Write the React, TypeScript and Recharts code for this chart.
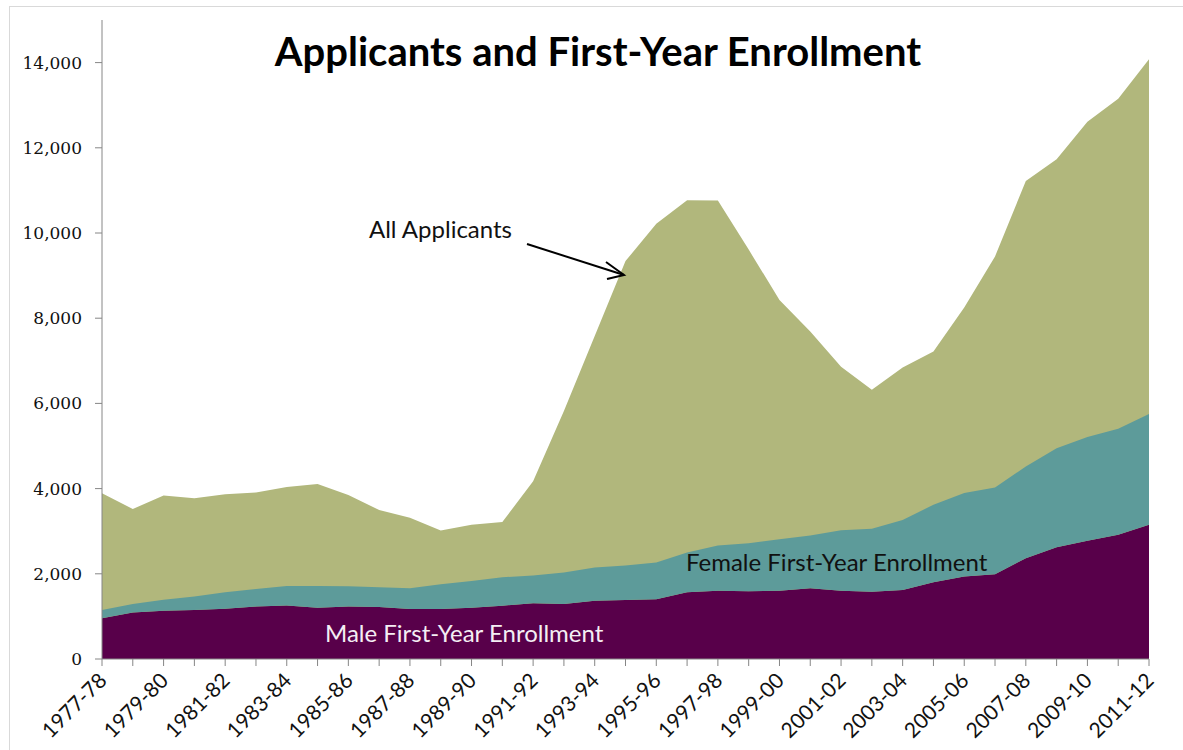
import { AreaChart, Area, XAxis, YAxis } from "recharts";

const years = [
  "1977-78", "1978-79", "1979-80", "1980-81", "1981-82", "1982-83", "1983-84",
  "1984-85", "1985-86", "1986-87", "1987-88", "1988-89", "1989-90", "1990-91",
  "1991-92", "1992-93", "1993-94", "1994-95", "1995-96", "1996-97", "1997-98",
  "1998-99", "1999-00", "2000-01", "2001-02", "2002-03", "2003-04", "2004-05",
  "2005-06", "2006-07", "2007-08", "2008-09", "2009-10", "2010-11", "2011-12",
];

const applicants = [
  3890, 3520, 3840, 3775, 3870, 3910, 4040, 4110, 3850, 3500, 3315, 3015, 3150,
  3215, 4170, 5820, 7580, 9340, 10220, 10770, 10760, 9610, 8430, 7690, 6860,
  6320, 6840, 7220, 8250, 9450, 11220, 11730, 12610, 13150, 14080,
];

const maleEnrollment = [
  955, 1090, 1135, 1150, 1180, 1230, 1255, 1205, 1230, 1218, 1175, 1175, 1205,
  1250, 1310, 1290, 1365, 1385, 1400, 1565, 1600, 1590, 1605, 1660, 1605, 1580,
  1620, 1800, 1935, 1990, 2365, 2625, 2775, 2915, 3150,
];

const femaleEnrollment = [
  195, 200, 255, 315, 385, 415, 460, 510, 480, 467, 485, 580, 625, 670, 650,
  740, 780, 810, 865, 935, 1065, 1130, 1205, 1240, 1420, 1475, 1645, 1820, 1960,
  2035, 2155, 2325, 2435, 2490, 2600,
];

const yTicks = [0, 2000, 4000, 6000, 8000, 10000, 12000, 14000];

const data = years.map((year, i) => ({
  year,
  applicants: applicants[i],
  male: maleEnrollment[i],
  female: femaleEnrollment[i],
}));

const labelFont = "Lato, 'Open Sans', sans-serif";

function YearTick(props: any) {
  const { x, y, payload } = props;
  const idx = years.indexOf(payload.value);
  if (idx % 2 !== 0) return <g />;
  return (
    <text
      transform={`translate(${x + 6},${y + 14}) rotate(-45)`}
      textAnchor="end"
      fontFamily={labelFont}
      fontSize={21}
      fill="#111"
    >
      {payload.value}
    </text>
  );
}

export default function App() {
  return (
    <div style={{ position: "absolute", left: 0, top: 0, width: 1183, height: 750, background: "#fff", overflow: "hidden" }}>
      <div
        style={{
          position: "absolute",
          left: 9,
          top: 6,
          width: 1300,
          height: 900,
          borderTop: "1px solid #d9d9d9",
          borderLeft: "1px solid #d9d9d9",
        }}
      />
      <div style={{ position: "absolute", left: 0, top: 0 }}>
        <AreaChart
          width={1183}
          height={750}
          data={data}
          margin={{ top: 20, right: 34, bottom: 0, left: 0 }}
        >
          <XAxis
            dataKey="year"
            interval={0}
            height={91}
            tickSize={7}
            stroke="#868686"
            tick={<YearTick />}
          />
          <YAxis
            width={102}
            domain={[0, 15000]}
            ticks={yTicks}
            tickSize={7}
            tickMargin={13}
            stroke="#868686"
            tickFormatter={(v: number) => v.toLocaleString("en-US")}
            tick={{ fill: "#111", fontSize: 17, fontFamily: "'DejaVu Serif', serif" }}
          />
          <Area
            dataKey="applicants"
            type="linear"
            fill="#b1b77c"
            fillOpacity={1}
            stroke="none"
            isAnimationActive={false}
          />
          <Area
            dataKey="male"
            stackId="enr"
            type="linear"
            fill="#58004a"
            fillOpacity={1}
            stroke="none"
            isAnimationActive={false}
          />
          <Area
            dataKey="female"
            stackId="enr"
            type="linear"
            fill="#5d9b9a"
            fillOpacity={1}
            stroke="none"
            isAnimationActive={false}
          />
        </AreaChart>
      </div>
      <svg
        width={1183}
        height={750}
        style={{ position: "absolute", left: 0, top: 0, pointerEvents: "none" }}
      >
        <text x={598} y={66} textAnchor="middle" fontFamily={labelFont} fontWeight={700} fontSize={40} fill="#000">
          Applicants and First-Year Enrollment
        </text>
        <text x={369} y={238} fontFamily={labelFont} fontSize={24} fill="#111">
          All Applicants
        </text>
        <line x1={527} y1={244} x2={624} y2={275} stroke="#000" strokeWidth={2} />
        <polyline points="606,262 624,275 607,279" fill="none" stroke="#000" strokeWidth={2} />
        <text x={686} y={571} fontFamily={labelFont} fontSize={24} fill="#111">
          Female First-Year Enrollment
        </text>
        <text x={325} y={642} fontFamily={labelFont} fontSize={24} fill="#f4eef4">
          Male First-Year Enrollment
        </text>
      </svg>
    </div>
  );
}
